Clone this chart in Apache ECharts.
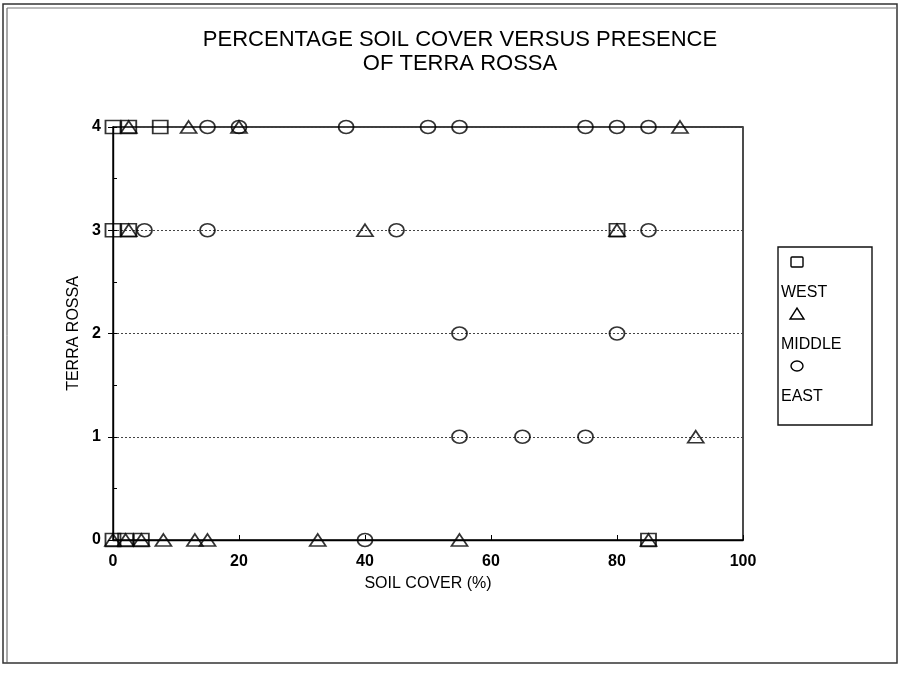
<!DOCTYPE html>
<html>
<head>
<meta charset="utf-8">
<script src="https://cdn.jsdelivr.net/npm/echarts@6/dist/echarts.min.js"></script>
<style>
  html, body { margin: 0; padding: 0; background: #fff; }
  #chart { width: 901px; height: 675px; }
</style>
</head>
<body>
<div id="chart"></div>
<script>
// Soil cover (%) and terra rossa class for each sampled site, by zone
const seriesNames = ['WEST', 'MIDDLE', 'EAST'];

const westCover  = [0, 2.5, 7.5, 0, 2.5, 80, 0, 2, 4.5, 85];
const westTerra  = [4, 4,   4,   3, 3,   3,  0, 0, 0,   0];

const middleCover = [2.5, 12, 20, 90, 2.5, 40, 80, 92.5, 0, 2, 4.5, 8, 13, 15, 32.5, 55, 85];
const middleTerra = [4,   4,  4,  4,  3,   3,  3,  1,    0, 0, 0,   0, 0,  0,  0,    0,  0];

const eastCover = [15, 20, 37, 50, 55, 75, 80, 85, 5, 15, 45, 85, 55, 80, 55, 65, 75, 40];
const eastTerra = [4,  4,  4,  4,  4,  4,  4,  4,  3, 3,  3,  3,  2,  2,  1,  1,  1,  0];

const xTicks = [0, 20, 40, 60, 80, 100];
const yTicks = [0, 1, 2, 3, 4];

const FONT = '"Liberation Sans", Arial, sans-serif';

function pairs(xs, ys) {
  return xs.map((x, i) => [x, ys[i]]);
}

const markerStyle = {
  color: 'rgba(0,0,0,0)',
  borderColor: '#000',
  borderWidth: 1.7
};

const symbols = ['rect', 'triangle', 'circle'];
const sizes = [[15, 13], [16, 12], [15, 13]];
const dataSets = [
  pairs(westCover, westTerra),
  pairs(middleCover, middleTerra),
  pairs(eastCover, eastTerra)
];

const series = seriesNames.map((name, i) => ({
  name: name,
  type: 'scatter',
  symbol: symbols[i],
  symbolSize: sizes[i],
  clip: false,
  itemStyle: markerStyle,
  data: dataSets[i],
  z: 3 + i
}));

// Legend box: symbol above each zone name
const legendX = 778, legendY = 247;
const legendChildren = [{
  type: 'rect',
  shape: { x: legendX, y: legendY, width: 94, height: 178 },
  style: { fill: '#fff', stroke: '#111', lineWidth: 1.4 }
}];
const legendShapes = [
  (cx, cy) => ({ type: 'rect', shape: { x: cx - 6, y: cy - 5, width: 12, height: 10, r: 1 } }),
  (cx, cy) => ({ type: 'polygon', shape: { points: [[cx - 7, cy + 5], [cx + 7, cy + 5], [cx, cy - 6]] } }),
  (cx, cy) => ({ type: 'ellipse', shape: { cx: cx, cy: cy, rx: 6, ry: 5 } })
];
seriesNames.forEach((name, i) => {
  const top = legendY + 15 + i * 52;
  const sym = legendShapes[i](797, top);
  sym.style = { fill: 'none', stroke: '#000', lineWidth: 1.4 };
  legendChildren.push(sym);
  legendChildren.push({
    type: 'text',
    style: {
      x: 781, y: top + 31, text: name,
      fill: '#000', font: '16px ' + FONT,
      textVerticalAlign: 'middle'
    }
  });
});

const option = {
  backgroundColor: '#fff',
  animation: false,
  title: {
    text: 'PERCENTAGE SOIL COVER VERSUS PRESENCE\nOF TERRA ROSSA',
    left: 455,
    top: 23,
    textAlign: 'center',
    textStyle: {
      fontFamily: FONT,
      fontWeight: 'normal',
      fontSize: 22,
      lineHeight: 24,
      color: '#000'
    }
  },
  grid: {
    left: 113, right: 158, top: 127, bottom: 135,
    show: true,
    borderColor: '#000',
    borderWidth: 1.4,
    backgroundColor: 'rgba(0,0,0,0)'
  },
  xAxis: {
    type: 'value',
    min: xTicks[0],
    max: xTicks[xTicks.length - 1],
    interval: 20,
    name: 'SOIL COVER (%)',
    nameLocation: 'middle',
    nameGap: 36,
    nameTextStyle: { fontFamily: FONT, fontSize: 16, color: '#000' },
    axisLine: { lineStyle: { color: '#000', width: 1.4 } },
    axisTick: { inside: true, length: 5, lineStyle: { color: '#000' } },
    axisLabel: {
      margin: 14,
      fontFamily: FONT, fontSize: 16, fontWeight: 'bold', color: '#000'
    },
    splitLine: { show: false }
  },
  yAxis: [{
    type: 'value',
    min: yTicks[0],
    max: yTicks[yTicks.length - 1],
    interval: 1,
    name: 'TERRA ROSSA',
    nameLocation: 'middle',
    nameGap: 31,
    nameTextStyle: { fontFamily: FONT, fontSize: 16, color: '#000' },
    axisLine: { show: true, lineStyle: { color: '#000', width: 1.4 } },
    axisTick: { show: true, inside: false, length: 5, lineStyle: { color: '#000' } },
    axisLabel: {
      margin: 12,
      fontFamily: FONT, fontSize: 16, fontWeight: 'bold', color: '#000'
    },
    splitLine: {
      show: true,
      lineStyle: { color: '#444', type: [2, 2], width: 1 }
    }
  }, {
    // inner half-step ticks along the left edge
    type: 'value',
    position: 'left',
    min: yTicks[0],
    max: yTicks[yTicks.length - 1],
    interval: 0.5,
    axisLine: { show: false },
    axisTick: { show: true, inside: true, length: 4, lineStyle: { color: '#000' } },
    axisLabel: { show: false },
    splitLine: { show: false }
  }],
  graphic: [
    // page frame
    { type: 'rect', shape: { x: 3, y: 4, width: 894, height: 659 },
      style: { fill: 'none', stroke: '#333', lineWidth: 1.5 }, z: 0 },
    { type: 'line', shape: { x1: 7, y1: 8, x2: 7, y2: 663 },
      style: { stroke: '#555', lineWidth: 1 }, z: 0 },
    { type: 'line', shape: { x1: 7, y1: 8, x2: 897, y2: 8 },
      style: { stroke: '#777', lineWidth: 1 }, z: 0 },
    { type: 'group', children: legendChildren, z: 10 }
  ],
  series: series
};

const chart = echarts.init(document.getElementById('chart'), null, { renderer: 'canvas' });
chart.setOption(option);
</script>
</body>
</html>
